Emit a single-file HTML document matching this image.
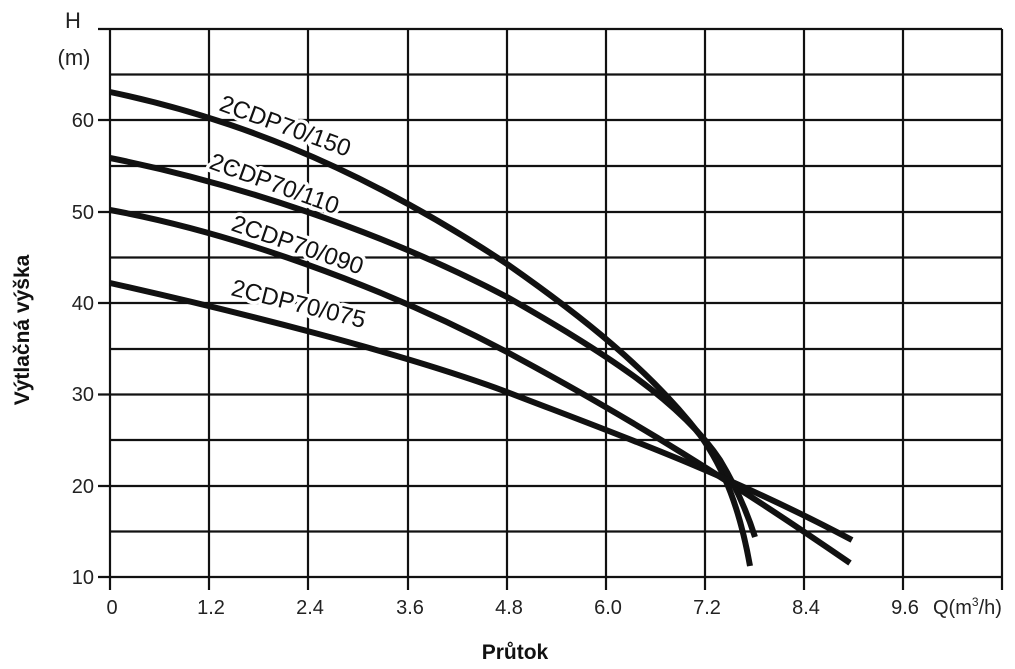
<!DOCTYPE html>
<html><head><meta charset="utf-8"><style>
html,body{margin:0;padding:0;background:#fff;}
svg{display:block;font-family:"Liberation Sans",Arial,sans-serif;}
</style></head><body>
<svg width="1015" height="669" viewBox="0 0 1015 669" xmlns="http://www.w3.org/2000/svg">
<g stroke="#111" stroke-width="2.2" fill="none">
<line x1="98" y1="29" x2="1002" y2="29"/>
<line x1="110" y1="74.5" x2="1002" y2="74.5"/>
<line x1="98" y1="120" x2="1002" y2="120"/>
<line x1="110" y1="166" x2="1002" y2="166"/>
<line x1="98" y1="212" x2="1002" y2="212"/>
<line x1="110" y1="257.5" x2="1002" y2="257.5"/>
<line x1="98" y1="303" x2="1002" y2="303"/>
<line x1="110" y1="349" x2="1002" y2="349"/>
<line x1="98" y1="394.5" x2="1002" y2="394.5"/>
<line x1="110" y1="440" x2="1002" y2="440"/>
<line x1="98" y1="486" x2="1002" y2="486"/>
<line x1="110" y1="531.5" x2="1002" y2="531.5"/>
<line x1="98" y1="577" x2="1002" y2="577"/>
<line x1="110" y1="29" x2="110" y2="590"/>
<line x1="209" y1="29" x2="209" y2="590"/>
<line x1="308" y1="29" x2="308" y2="590"/>
<line x1="408" y1="29" x2="408" y2="590"/>
<line x1="507" y1="29" x2="507" y2="590"/>
<line x1="606" y1="29" x2="606" y2="590"/>
<line x1="705" y1="29" x2="705" y2="590"/>
<line x1="804" y1="29" x2="804" y2="590"/>
<line x1="903" y1="29" x2="903" y2="590"/>
<line x1="1002" y1="29" x2="1002" y2="590"/>
</g>
<g stroke="#111" stroke-width="6" fill="none" stroke-linecap="butt" stroke-linejoin="round">
<path d="M110,92 C220,115 350,160 507,264 C580,315 650,370 700,435 C725,470 740,510 750,566"/>
<path d="M110,158 C230,182 380,230 507,297 C600,350 680,400 720,460 C738,490 748,515 755,537"/>
<path d="M110,210 C230,232 380,285 507,352 C600,402 700,460 850,563"/>
<path d="M110,283 C230,310 400,352 507,392 C600,428 720,470 852,540"/>
</g>
<g font-size="24" fill="#111" stroke="#fff" stroke-width="7" paint-order="stroke" stroke-linejoin="round">
<text transform="translate(218,110) rotate(20)">2CDP70/150</text>
<text transform="translate(208,168) rotate(20)">2CDP70/110</text>
<text transform="translate(230,230) rotate(19)">2CDP70/090</text>
<text transform="translate(230,295) rotate(14)">2CDP70/075</text>
</g>
<g font-size="20" fill="#222" text-anchor="end">
<text x="94" y="127">60</text>
<text x="94" y="219">50</text>
<text x="94" y="310">40</text>
<text x="94" y="401">30</text>
<text x="94" y="493">20</text>
<text x="94" y="584">10</text>
</g>
<text x="73" y="28" font-size="22" fill="#222" text-anchor="middle">H</text>
<text x="74" y="65" font-size="22" fill="#222" text-anchor="middle">(m)</text>
<g font-size="20" fill="#222" text-anchor="middle">
<text x="112" y="614">0</text>
<text x="211" y="614">1.2</text>
<text x="310" y="614">2.4</text>
<text x="410" y="614">3.6</text>
<text x="509" y="614">4.8</text>
<text x="608" y="614">6.0</text>
<text x="707" y="614">7.2</text>
<text x="806" y="614">8.4</text>
<text x="905" y="614">9.6</text>
</g>
<text x="933" y="614" font-size="20" fill="#222">Q(m<tspan font-size="12" dy="-8">3</tspan><tspan dy="8">/h)</tspan></text>
<text x="515" y="659" font-size="21" font-weight="bold" fill="#111" text-anchor="middle">Průtok</text>
<text transform="translate(29,330) rotate(-90)" font-size="21" font-weight="bold" fill="#111" text-anchor="middle">Výtlačná výška</text>
</svg>
</body></html>
